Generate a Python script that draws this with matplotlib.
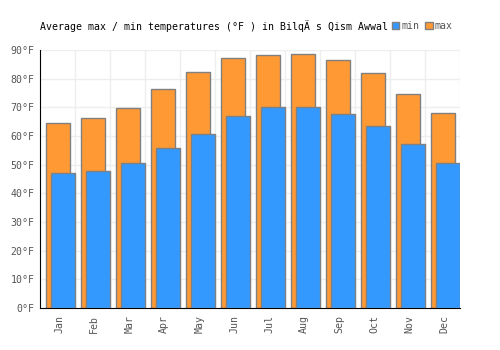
import matplotlib

matplotlib.use("Agg")
import matplotlib.pyplot as plt
import numpy
from matplotlib.patches import Patch

months = ["Jan", "Feb", "Mar", "Apr", "May", "Jun", "Jul", "Aug", "Sep", "Oct", "Nov", "Dec"]
temp_max = [64.4, 66.2, 69.7, 76.3, 82.2, 87.4, 88.1, 88.5, 86.4, 81.9, 74.5, 68.0]
temp_min = [47.0, 47.7, 50.5, 55.7, 60.6, 66.9, 70.3, 70.3, 67.6, 63.4, 57.1, 50.5]
y_ticks = [0, 10, 20, 30, 40, 50, 60, 70, 80, 90]

plt.rcParams["font.family"] = ["DejaVu Sans Mono"]
FS = 7.15

fig = plt.figure(figsize=(5, 3.5), dpi=100)
ax = fig.add_axes([0.08, 0.12, 0.84, 0.737])

x = numpy.arange(len(months))
w = 0.68
ax.bar(x + 0.015, temp_max, width=w, color="#ff9933", edgecolor="#808080", linewidth=1, zorder=2)
ax.bar(x + 0.165, temp_min, width=w, color="#3399ff", edgecolor="#808080", linewidth=1, zorder=3)

ax.set_xlim(-0.5, len(months) - 0.5)
ax.set_ylim(0, 90)
ax.set_yticks(y_ticks)
ax.set_yticklabels([f"{v}°F" for v in y_ticks])
ax.set_xticks(x + 0.05)
ax.set_xticklabels(months, rotation=90)
ax.set_xticks(x + 0.5, minor=True)
ax.tick_params(axis="both", which="both", length=0, labelsize=FS, labelcolor="#555555")
ax.tick_params(axis="y", pad=4)
ax.tick_params(axis="x", pad=5)

ax.grid(True, axis="y", color="#eeeeee", linewidth=1, zorder=0)
ax.grid(True, axis="x", which="minor", color="#eeeeee", linewidth=1, zorder=0)
ax.set_axisbelow(True)
for s in ("top", "right"):
    ax.spines[s].set_visible(False)
ax.spines["left"].set_color("black")
ax.spines["bottom"].set_color("black")

fig.text(0.08, 0.926, "Average max / min temperatures (°F ) in BilqÄ s Qism Awwal",
         fontsize=FS, color="black", va="center", ha="left")
handles = [
    Patch(facecolor="#3399ff", edgecolor="#808080", label="min"),
    Patch(facecolor="#ff9933", edgecolor="#808080", label="max"),
]
leg = fig.legend(handles=handles, loc="center left", bbox_to_anchor=(0.784, 0.926), ncol=2,
                 frameon=False, fontsize=FS, handlelength=0.75, handleheight=0.75,
                 handletextpad=0.2, columnspacing=0.6, borderpad=0, borderaxespad=0)
for t in leg.get_texts():
    t.set_color("#555555")

fig.savefig("out.png", dpi=100)
